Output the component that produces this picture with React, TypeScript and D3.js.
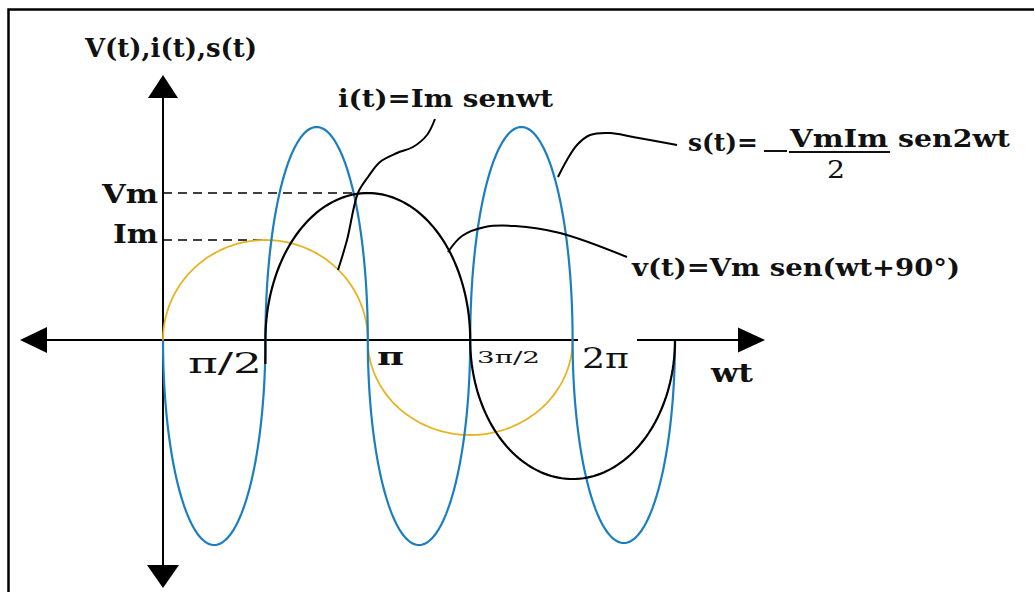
import React from "react";
import * as d3 from "d3";

// x values are in units of π/2 (wt), y values in units of Im
const tickUnits = [1, 2, 3, 4];
const tickLabels = ["π/2", "π", "3π/2", "2π"];

const currentStart = 0;
const currentWidth = 2;
const currentPeaks = [1.0, -0.95];

const voltageStart = 1;
const voltageWidth = 2;
const voltagePeaks = [1.47, -1.39];

const powerStart = 0;
const powerWidth = 1;
const powerPeaks = [-2.05, 2.13, -2.05, 2.13, -2.03];

const vmLevel = 1.47;
const imLevel = 1.0;

const currentLeader: [number, number][] = [
  [2.656, 2.21], [2.578, 2.05], [2.441, 1.93], [2.285, 1.87], [2.119, 1.78],
  [2.002, 1.63], [1.904, 1.47], [1.797, 1.0], [1.709, 0.7],
];
const powerLeader: [number, number][] = [
  [5.02, 1.95], [4.59, 2.03], [4.365, 2.07], [4.17, 2.05], [4.043, 1.95],
  [3.945, 1.8], [3.857, 1.63],
];
const voltageLeader: [number, number][] = [
  [2.783, 0.88], [2.92, 1.04], [3.145, 1.13], [3.4375, 1.14], [3.877, 1.07], [4.531, 0.83],
];

const W = 1034;
const H = 592;
const FONT = "'DejaVu Serif', serif";

const x = d3.scaleLinear().domain([0, 5]).range([163, 675]);
const y = d3.scaleLinear().domain([-1, 1]).range([440, 240]);

function lobes(start: number, width: number, peaks: number[]): [number, number][] {
  const pts: [number, number][] = [];
  peaks.forEach((a, k) => {
    const c = start + k * width + width / 2;
    const n = 90;
    for (let i = 0; i <= n; i++) {
      const th = Math.PI - (Math.PI * i) / n;
      pts.push([c + (width / 2) * Math.cos(th), a * Math.sin(th)]);
    }
  });
  return pts;
}

const line = d3
  .line<[number, number]>()
  .x((d) => x(d[0]))
  .y((d) => y(d[1]));
const smooth = d3
  .line<[number, number]>()
  .x((d) => x(d[0]))
  .y((d) => y(d[1]))
  .curve(d3.curveCatmullRom);

function T(props: {
  x: number; y: number; size: number; len: number; weight?: string; children: string;
}) {
  return (
    <text
      x={props.x}
      y={props.y}
      fontSize={props.size}
      fontFamily={FONT}
      fontWeight={props.weight ?? "bold"}
      textLength={props.len}
      lengthAdjust="spacingAndGlyphs"
      fill="#111"
    >
      {props.children}
    </text>
  );
}

export default function App() {
  const y0 = y(0);
  const x0 = x(0);
  const tickX = tickUnits.map((u) => x(u));
  const labelPos = [
    { x: 188, y: 373, size: 28, len: 74, weight: "normal" },
    { x: 377, y: 365, size: 24, len: 27, weight: "bold" },
    { x: 477, y: 363, size: 17, len: 63, weight: "normal" },
    { x: 582, y: 368, size: 28, len: 47, weight: "normal" },
  ];
  return (
    <svg
      width={W}
      height={H}
      style={{ position: "absolute", left: 0, top: 0, background: "#fff" }}
    >
      <rect x={0} y={0} width={W} height={H} fill="#fff" />
      {/* frame */}
      <path d={`M8.5,${H} V9.5 H${W}`} fill="none" stroke="#000" strokeWidth={2.5} />

      {/* axes */}
      <line x1={47} y1={y0} x2={740} y2={y0} stroke="#000" strokeWidth={2} />
      <path d={`M20,${y0} L47,${y0 - 13} L47,${y0 + 13} Z`} fill="#000" />
      <path d={`M765,${y0} L738,${y0 - 12.5} L738,${y0 + 12.5} Z`} fill="#000" />
      <line x1={x0} y1={97} x2={x0} y2={566} stroke="#000" strokeWidth={2} />
      <path d={`M${x0},75 L${x0 - 15},98 L${x0 + 15},98 Z`} fill="#000" />
      <path d={`M${x0},588 L${x0 - 16},565 L${x0 + 16},565 Z`} fill="#000" />

      {/* dashed reference lines */}
      <line x1={x0} y1={y(vmLevel)} x2={357} y2={y(vmLevel)} stroke="#000" strokeWidth={1.6} strokeDasharray="9,6" />
      <line x1={x0} y1={y(imLevel)} x2={x(1)} y2={y(imLevel)} stroke="#000" strokeWidth={1.6} strokeDasharray="9,6" />

      {/* curves */}
      <path d={line(lobes(currentStart, currentWidth, currentPeaks)) ?? ""} fill="none" stroke="#e6b422" strokeWidth={1.8} />
      <path d={line(lobes(powerStart, powerWidth, powerPeaks)) ?? ""} fill="none" stroke="#1a7fc1" strokeWidth={2.2} />
      <path d={line(lobes(voltageStart, voltageWidth, voltagePeaks)) ?? ""} fill="none" stroke="#000" strokeWidth={2.2} />
      <line x1={tickX[0]} y1={y0} x2={tickX[0]} y2={364} stroke="#000" strokeWidth={2.2} />

      {/* leaders */}
      <path d={smooth(currentLeader) ?? ""} fill="none" stroke="#000" strokeWidth={2} />
      <path d={smooth(powerLeader) ?? ""} fill="none" stroke="#000" strokeWidth={2} />
      <path d={smooth(voltageLeader) ?? ""} fill="none" stroke="#000" strokeWidth={2} />

      {/* tick labels */}
      <rect x={578} y={333} width={59} height={40} fill="#fff" />
      {tickLabels.map((t, i) => (
        <T key={t} x={labelPos[i].x} y={labelPos[i].y} size={labelPos[i].size} len={labelPos[i].len} weight={labelPos[i].weight}>
          {t}
        </T>
      ))}
      <T x={711} y={382} size={26} len={42}>wt</T>

      {/* axis title & levels */}
      <T x={85} y={57} size={26} len={172}>V(t),i(t),s(t)</T>
      <T x={102} y={203} size={26} len={56}>Vm</T>
      <T x={113} y={243} size={26} len={45}>Im</T>

      {/* annotations */}
      <T x={338} y={107} size={24} len={215}>i(t)=Im senwt</T>
      <T x={688} y={151} size={24} len={70}>s(t)=</T>
      <line x1={764} y1={151} x2={787} y2={151} stroke="#111" strokeWidth={2} />
      <line x1={789} y1={152} x2={890} y2={152} stroke="#111" strokeWidth={2} />
      <T x={790} y={147} size={24} len={98}>VmIm</T>
      <T x={827} y={178} size={24} len={18} weight="normal">2</T>
      <T x={898} y={147} size={24} len={112}>sen2wt</T>
      <T x={632} y={276} size={24} len={328}>v(t)=Vm sen(wt+90°)</T>
    </svg>
  );
}
